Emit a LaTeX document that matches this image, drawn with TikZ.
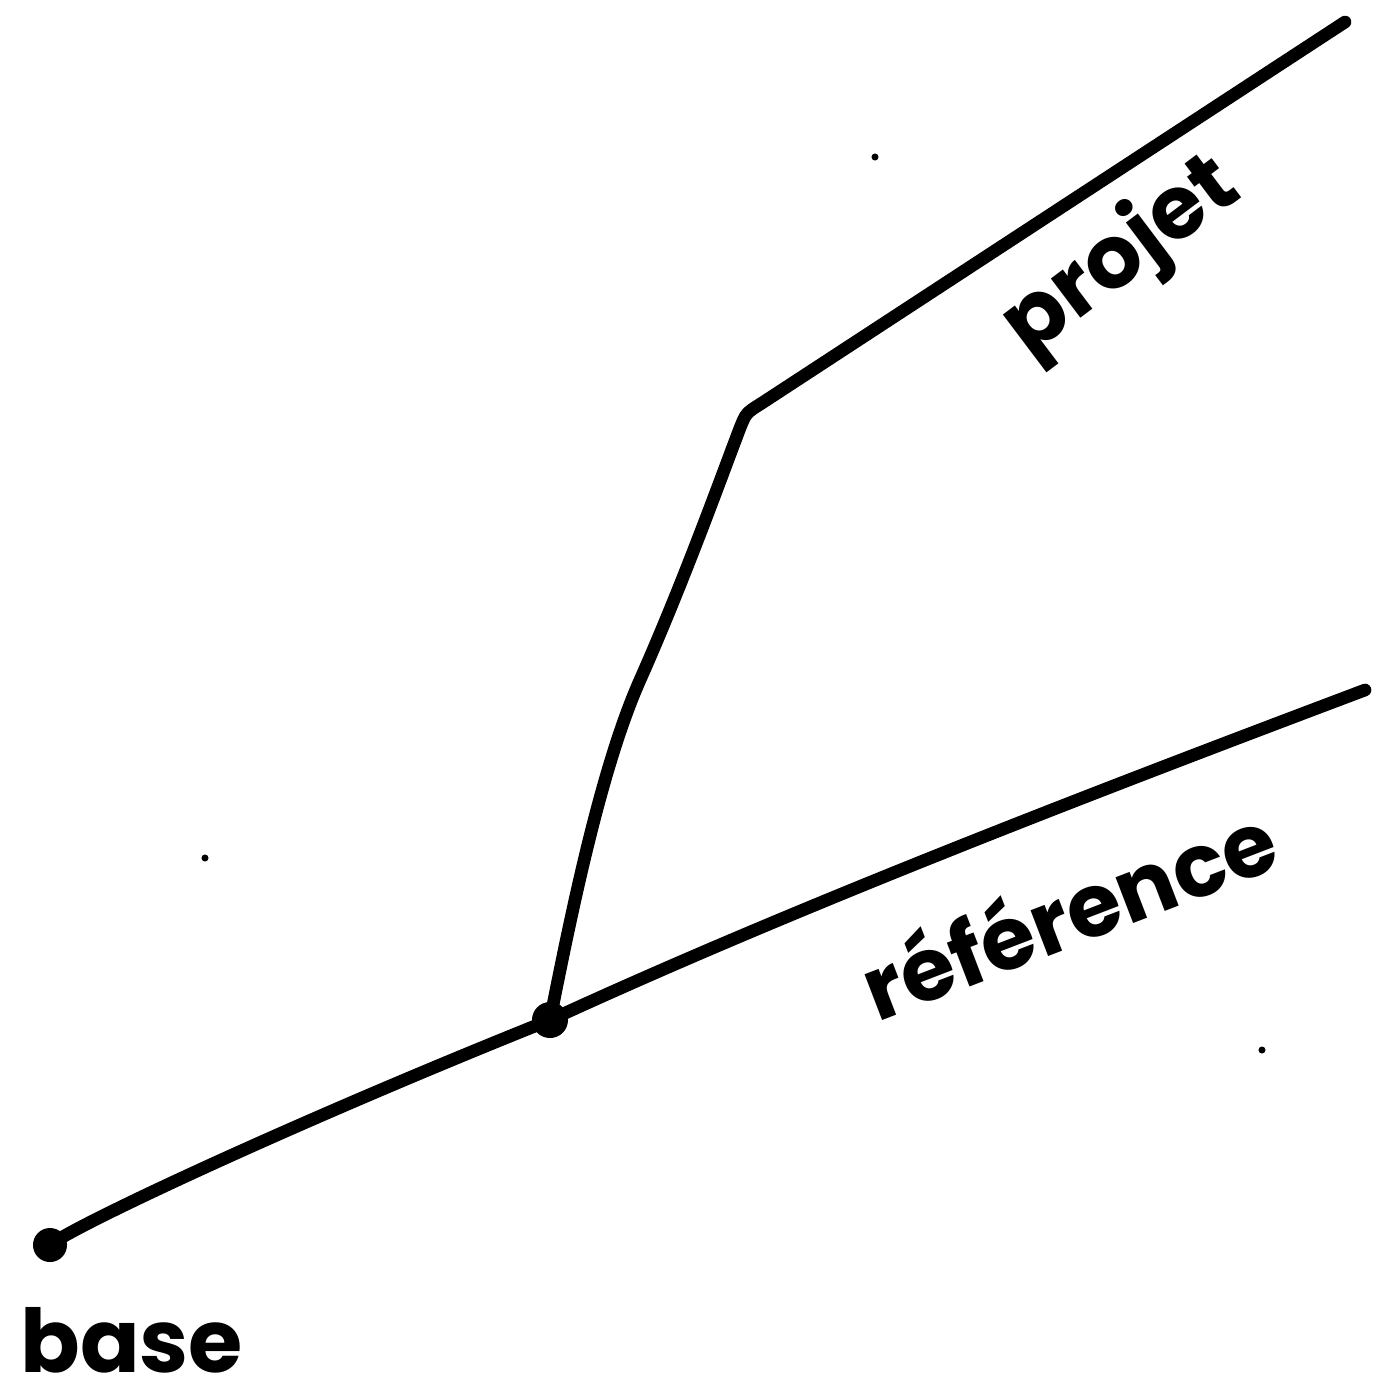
\documentclass[tikz,border=0pt]{standalone}
\usepackage{fontspec}
\setmainfont{Poppins}
\begin{document}
\begin{tikzpicture}[x=0.01cm,y=-0.01cm,
  branch/.style={line width=3.6pt,line cap=round,line join=round},
  commitdot/.style={circle,fill=black,inner sep=0pt,minimum size=0.34cm},
  lbl/.style={font=\fontsize{25}{28}\selectfont\bfseries},
  speck/.style={circle,fill=black,inner sep=0pt,minimum size=2pt}]
\useasboundingbox (0,0) rectangle (1374,1399);
\node[commitdot] (b) at (50,1245) {};
\node[commitdot,minimum size=0.36cm] (m) at (550,1020) {};
\coordinate (bend) at (740,428);
\coordinate (pend) at (1345,22);
\coordinate (rend) at (1365,690);
\draw[branch] (b.center) .. controls (75,1225) and (300,1120) .. (m.center);
\draw[branch] (m.center) .. controls (570,920) and (600,770) .. (640,680)
  .. controls (684,581) and (722,475) .. (bend)
  .. controls (746,413) .. (762,403) -- (pend);
\draw[branch] (m.center) .. controls (800,905) and (1100,790) .. (rend);
\node[lbl,rotate=37] (lp) at (1122,258) {projet};
\node[lbl,rotate=21] (lr) at (1068,910) {référence};
\node[lbl,anchor=west] (lb) at (8,1340) {base};
\node[speck] (s1) at (875,157) {};
\node[speck] (s2) at (205,858) {};
\node[speck] (s3) at (1262,1050) {};
\end{tikzpicture}
\end{document}
